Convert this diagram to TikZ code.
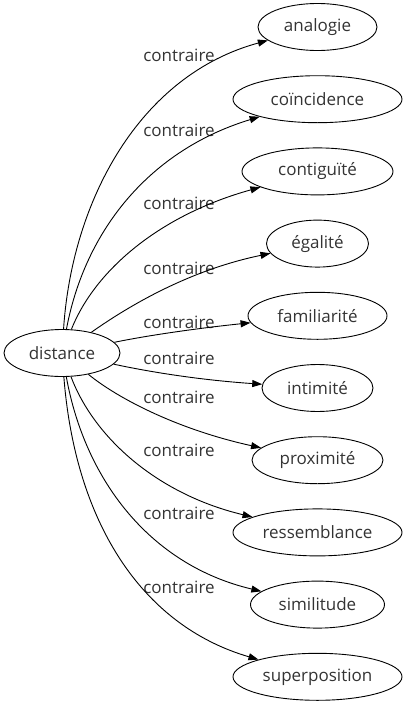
\documentclass[tikz,border=0pt]{standalone}
\usepackage{fontspec}
\usepackage{tikz}
\usetikzlibrary{shapes.geometric,arrows.meta}
\setmainfont{Open Sans}
\definecolor{wordtext}{HTML}{333333}

\begin{document}
\begin{tikzpicture}[
  x=1pt,y=-1pt,
  term/.style={ellipse,draw,line width=0.9pt,inner sep=2pt,
    minimum height=47pt,text=wordtext,
    font=\fontsize{17}{20}\selectfont},
  rel/.style={inner sep=0pt,text=wordtext,
    font=\fontsize{17}{20}\selectfont},
  arr/.style={-{Triangle[length=10pt,width=7pt]},line width=0.9pt}]

  \useasboundingbox (0,0) rectangle (407,707);

  \node[term,minimum width=116pt] (distance) at (62,353) {distance};

  \node[term,minimum width=119pt] (analogie) at (317.5,27) {analogie};
  \node[term,minimum width=169pt] (coincidence) at (317.5,99.2) {coïncidence};
  \node[term,minimum width=151pt] (contiguite) at (317.5,171.4) {contiguïté};
  \node[term,minimum width=102pt] (egalite) at (317.5,243.6) {égalité};
  \node[term,minimum width=139pt] (familiarite) at (317.5,315.8) {familiarité};
  \node[term,minimum width=111pt] (intimite) at (317.5,388) {intimité};
  \node[term,minimum width=131pt] (proximite) at (317.5,460.2) {proximité};
  \node[term,minimum width=169pt] (ressemblance) at (317.5,532.4) {ressemblance};
  \node[term,minimum width=134pt] (similitude) at (317.5,604.6) {similitude};
  \node[term,minimum width=169pt] (superposition) at (317.5,676.8) {superposition};

  \node[rel] (l1) at (179,55) {contraire};
  \node[rel] (l2) at (179,130) {contraire};
  \node[rel] (l3) at (179,203) {contraire};
  \node[rel] (l4) at (179,268) {contraire};
  \node[rel] (l5) at (179,322) {contraire};
  \node[rel] (l6) at (179,358) {contraire};
  \node[rel] (l7) at (179,397) {contraire};
  \node[rel] (l8) at (179,450) {contraire};
  \node[rel] (l9) at (179,513) {contraire};
  \node[rel] (l10) at (179,587) {contraire};

  \draw[arr] (distance) .. controls (72,200) and (140,75) .. (analogie);
  \draw[arr] (distance) .. controls (85,230) and (150,150) .. (coincidence);
  \draw[arr] (distance) .. controls (95,270) and (160,215) .. (contiguite);
  \draw[arr] (distance) .. controls (130,305) and (190,270) .. (egalite);
  \draw[arr] (distance) .. controls (150,335) and (200,328) .. (familiarite);
  \draw[arr] (distance) .. controls (150,372) and (200,380) .. (intimite);
  \draw[arr] (distance) .. controls (120,400) and (180,430) .. (proximite);
  \draw[arr] (distance) .. controls (95,440) and (160,495) .. (ressemblance);
  \draw[arr] (distance) .. controls (85,480) and (150,565) .. (similitude);
  \draw[arr] (distance) .. controls (75,520) and (140,625) .. (superposition);
\end{tikzpicture}
\end{document}
